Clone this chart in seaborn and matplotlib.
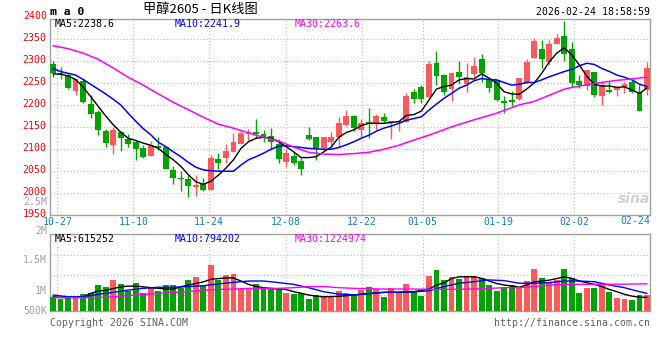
import numpy as np
import matplotlib
matplotlib.use("Agg")
import matplotlib.pyplot as plt
from matplotlib.transforms import ScaledTranslation
import seaborn as sns

# ---------------- data ----------------
date_labels = ["10-27", "11-10", "11-24", "12-08", "12-22", "01-05", "01-19", "02-02"]
last_label = "02-24"

opens = [2294, 2273, 2267, 2232, 2255, 2202, 2184, 2141, 2109, 2138,
         2122, 2116, 2102, 2084, 2107, 2105, 2052, 2034, 2031, 2014,
         2020, 2007, 2077, 2079, 2093, 2112, 2134, 2139, 2134, 2129,
         2112, 2071, 2084, 2072, 2131, 2126, 2101, 2116, 2128, 2154,
         2175, 2143, 2161, 2158, 2172, 2160, 2160, 2162, 2229, 2241,
         2219, 2295, 2268, 2236, 2275, 2248, 2270, 2305, 2259, 2257,
         2209, 2211, 2213, 2249, 2306, 2327, 2298, 2338, 2357, 2327,
         2254, 2244, 2276, 2221, 2235, 2235, 2240, 2253, 2230, 2234]
highs = [2300, 2287, 2272, 2260, 2260, 2223, 2188, 2146, 2150, 2140,
         2134, 2120, 2109, 2118, 2128, 2106, 2061, 2049, 2040, 2040,
         2033, 2086, 2090, 2111, 2137, 2141, 2145, 2168, 2143, 2147,
         2122, 2099, 2092, 2078, 2149, 2126, 2126, 2138, 2172, 2188,
         2178, 2168, 2192, 2179, 2181, 2164, 2166, 2226, 2237, 2245,
         2301, 2323, 2270, 2276, 2300, 2295, 2308, 2317, 2261, 2257,
         2220, 2232, 2262, 2304, 2352, 2348, 2348, 2361, 2392, 2344,
         2268, 2280, 2276, 2253, 2254, 2241, 2254, 2257, 2245, 2298]
lows = [2264, 2258, 2236, 2223, 2204, 2171, 2131, 2105, 2088, 2096,
        2103, 2074, 2079, 2084, 2097, 2055, 2020, 2004, 1991, 1992,
        2005, 2007, 2054, 2068, 2093, 2112, 2118, 2124, 2116, 2097,
        2068, 2059, 2062, 2040, 2119, 2074, 2096, 2103, 2101, 2152,
        2141, 2126, 2125, 2143, 2158, 2122, 2141, 2162, 2205, 2205,
        2219, 2245, 2223, 2210, 2247, 2229, 2264, 2253, 2229, 2210,
        2181, 2197, 2211, 2249, 2306, 2283, 2291, 2338, 2300, 2241,
        2238, 2234, 2219, 2200, 2226, 2221, 2228, 2228, 2187, 2222]
closes = [2272, 2268, 2238, 2258, 2207, 2180, 2143, 2114, 2143, 2125,
          2111, 2100, 2081, 2109, 2101, 2055, 2033, 2032, 2016, 2018,
          2007, 2079, 2068, 2096, 2116, 2137, 2139, 2134, 2128, 2115,
          2077, 2090, 2068, 2054, 2122, 2101, 2126, 2128, 2158, 2175,
          2147, 2159, 2156, 2175, 2163, 2163, 2164, 2220, 2214, 2214,
          2293, 2266, 2230, 2272, 2263, 2264, 2289, 2272, 2238, 2211,
          2205, 2207, 2262, 2298, 2346, 2304, 2339, 2352, 2317, 2251,
          2245, 2279, 2222, 2245, 2230, 2241, 2247, 2230, 2187, 2285]
# volume in millions
volumes = [0.62, 0.55, 0.67, 0.58, 0.77, 0.80, 1.18, 1.08, 1.41, 1.23,
           0.89, 1.27, 0.80, 1.03, 0.92, 1.18, 1.18, 1.05, 1.41, 1.53,
           1.12, 2.08, 1.38, 1.63, 1.68, 0.97, 1.03, 1.20, 1.03, 1.00,
           0.97, 0.82, 0.77, 0.82, 0.55, 0.70, 0.62, 0.65, 0.89, 0.80,
           0.76, 0.95, 1.08, 0.97, 0.62, 1.03, 0.80, 1.21, 0.92, 0.67,
           1.57, 1.84, 1.41, 1.53, 1.44, 1.57, 1.57, 1.48, 1.17, 0.89,
           1.03, 1.17, 1.08, 1.35, 1.89, 1.48, 1.26, 1.38, 1.89, 1.48,
           0.80, 1.03, 1.03, 1.15, 0.85, 0.59, 0.55, 0.50, 0.70, 0.73]

ma5 = [2271, 2270, 2266, 2258, 2241, 2219, 2197, 2175, 2155, 2138,
       2124, 2119, 2113, 2108, 2101, 2087, 2075, 2060, 2041, 2025,
       2019, 2026, 2040, 2056, 2075, 2101, 2116, 2124, 2126, 2125,
       2116, 2105, 2093, 2080, 2080, 2082, 2093, 2104, 2126, 2137,
       2143, 2153, 2158, 2158, 2158, 2160, 2162, 2176, 2178, 2186,
       2211, 2236, 2242, 2245, 2257, 2260, 2259, 2271, 2261, 2249,
       2230, 2225, 2224, 2236, 2250, 2272, 2298, 2318, 2330, 2314,
       2291, 2265, 2247, 2243, 2243, 2240, 2241, 2234, 2226, 2238.6]
ma10 = [2283, 2276, 2272, 2268, 2258, 2247, 2236, 2225, 2213, 2200,
        2181, 2163, 2146, 2132, 2115, 2105, 2093, 2082, 2069, 2058,
        2052, 2050, 2049, 2049, 2049, 2063, 2075, 2082, 2090, 2099,
        2106, 2107, 2105, 2103, 2101, 2100, 2099, 2099, 2103, 2109,
        2116, 2124, 2131, 2140, 2147, 2152, 2158, 2165, 2169, 2173,
        2188, 2202, 2215, 2226, 2238, 2245, 2255, 2260, 2258, 2257,
        2251, 2245, 2247, 2251, 2251, 2257, 2264, 2270, 2276, 2281,
        2289, 2295, 2292, 2283, 2276, 2268, 2263, 2257, 2247, 2241.9]
ma30_idx = [0, 2, 4, 6, 8, 10, 12, 14, 16, 18, 20, 22, 24, 27, 30, 32, 34, 36,
            38, 40, 42, 44, 46, 48, 50, 53, 56, 59, 62, 64, 66, 68, 70, 72, 75,
            77, 79]
ma30_val = [2335, 2328, 2318, 2304, 2284, 2263, 2245, 2225, 2206, 2189, 2172,
            2156, 2147, 2131, 2118, 2104, 2092, 2088, 2087, 2089, 2092, 2099,
            2108, 2120, 2131, 2150, 2166, 2181, 2200, 2208, 2222, 2236, 2243,
            2249, 2256, 2259, 2263.6]

vma5_idx = [0, 2, 4, 5, 6, 7, 8, 9, 10, 11, 12, 13, 14, 15, 16, 17, 18, 19, 20,
            21, 22, 23, 24, 25, 26, 27, 28, 29, 30, 31, 32, 33, 34, 35, 36, 38,
            40, 42, 44, 46, 48, 50, 51, 52, 53, 54, 55, 56, 57, 58, 59, 60, 61,
            62, 63, 64, 65, 66, 67, 68, 69, 70, 71, 72, 73, 74, 75, 76, 77, 78, 79]
vma5_val = [0.64, 0.60, 0.64, 0.79, 0.90, 0.93, 1.01, 1.09, 1.12, 1.12, 1.09,
            1.05, 1.02, 0.99, 0.99, 1.09, 1.17, 1.24, 1.31, 1.43, 1.46, 1.49,
            1.49, 1.35, 1.20, 1.10, 1.05, 1.02, 0.99, 0.97, 0.87, 0.80, 0.72,
            0.67, 0.64, 0.66, 0.72, 0.79, 0.84, 0.84, 0.87, 0.99, 1.16, 1.27,
            1.46, 1.54, 1.54, 1.54, 1.47, 1.35, 1.24, 1.17, 1.13, 1.07, 1.17,
            1.31, 1.35, 1.39, 1.46, 1.54, 1.47, 1.35, 1.27, 1.20, 1.10, 0.97,
            0.87, 0.75, 0.67, 0.62, 0.615]
vma10_idx = [0, 2, 4, 6, 8, 10, 12, 14, 16, 18, 20, 22, 24, 26, 28, 30, 32, 34,
             36, 38, 40, 44, 48, 50, 52, 54, 56, 58, 60, 62, 64, 66, 68, 70, 72,
             74, 76, 78, 79]
vma10_val = [0.72, 0.64, 0.64, 0.75, 0.84, 0.94, 1.02, 1.07, 1.07, 1.10, 1.14,
             1.22, 1.29, 1.35, 1.35, 1.28, 1.20, 1.05, 0.87, 0.76, 0.72, 0.84,
             0.86, 0.91, 1.10, 1.25, 1.32, 1.40, 1.37, 1.25, 1.25, 1.28, 1.35,
             1.35, 1.32, 1.17, 1.05, 0.87, 0.794]
vma30_idx = [0, 4, 6, 8, 10, 12, 14, 16, 18, 20, 22, 24, 26, 30, 32, 34, 36, 38,
             40, 44, 48, 52, 56, 60, 62, 64, 66, 68, 70, 76, 79]
vma30_val = [0.60, 0.60, 0.61, 0.64, 0.69, 0.75, 0.79, 0.84, 0.87, 0.94, 0.97,
             0.99, 1.02, 1.02, 1.05, 1.10, 1.10, 1.05, 1.02, 0.99, 0.99, 0.97,
             0.99, 1.05, 1.05, 1.10, 1.17, 1.20, 1.20, 1.21, 1.225]

ma_labels = ["MA5:2238.6", "MA10:2241.9", "MA30:2263.6"]
vma_labels = ["MA5:615252", "MA10:794202", "MA30:1224974"]
price_ticks = [1950, 2000, 2050, 2100, 2150, 2200, 2250, 2300, 2350]
vol_tick_texts = ["2.5M", "2M", "1.5M", "1M", "500K"]

# ---------------- style ----------------
sns.set_theme(style="white")
plt.rcParams["font.family"] = ["DejaVu Sans Mono"]
RED = "#fa5a5a"
GREEN = "#00a400"
GRID = "#b8b8b8"
FRAME = "#a0a0a0"
XBLUE = "#1478d4"
W, H = 660, 360
fs = 7.1


def fx(px):
    return px / W


def fy(py):
    return 1 - py / H


fig = plt.figure(figsize=(6.6, 3.6), dpi=100)
fig.patch.set_facecolor("white")

# main price axes: top y=19.3px, bottom y=214.65px
ax1 = fig.add_axes([fx(50), fy(214.65), 600 / W, (214.65 - 19.3) / H])
# volume axes: top y=234.3px, bottom y=311px
ax2 = fig.add_axes([fx(50), fy(311), 600 / W, (311 - 234.3) / H])

idx = np.arange(len(closes))
o = np.array(opens, float)
c = np.array(closes, float)
hi = np.array(highs, float)
lo = np.array(lows, float)
up = c > o
cols = np.where(up, RED, GREEN)

grid_pos = [0.57, 10.68, 20.78, 30.94, 41.05, 49.16, 59.22, 69.28]

for ax in (ax1, ax2):
    ax.set_facecolor("white")
    ax.set_xlim(-0.4, 79.4)
    for s in ax.spines.values():
        s.set_color(FRAME)
        s.set_linewidth(1.0)
    ax.tick_params(length=0)
    ax.set_xticks(grid_pos)
    ax.grid(True, color=GRID, linestyle=(0, (1, 2)), linewidth=0.8)
    ax.set_axisbelow(True)

# candles
ax1.vlines(idx, lo, hi, colors=cols, linewidth=1.0, zorder=2)
body = np.maximum(np.abs(c - o), 1.6)
ax1.bar(idx, body, bottom=np.minimum(o, c), width=0.78, color=cols,
        linewidth=0, zorder=3)

sns.lineplot(x=idx, y=ma5, ax=ax1, color="black", linewidth=1.0, zorder=4,
             legend=False)
sns.lineplot(x=idx, y=ma10, ax=ax1, color="#0000ff", linewidth=1.1, zorder=4,
             legend=False)
sns.lineplot(x=ma30_idx, y=ma30_val, ax=ax1, color="#ff00ff", linewidth=1.1,
             zorder=4, legend=False)

ax1.set_ylim(1950, 2395)
ax1.set_yticks(price_ticks)
ax1.set_yticklabels([str(t) for t in price_ticks], color="#ff0000",
                    fontsize=fs)
ax1.tick_params(axis="y", pad=2.5)
shift_up = ScaledTranslation(0, 1.7 / 100, fig.dpi_scale_trans)
for lab in ax1.get_yticklabels():
    lab.set_transform(lab.get_transform() + shift_up)
ax1.set_xticklabels(date_labels, color=XBLUE, fontsize=fs)
ax1.tick_params(axis="x", pad=2.0)
ax1.set_xlabel("")
ax1.set_ylabel("")

# volume bars
ax2.bar(idx, volumes, width=0.78, color=cols, linewidth=0, zorder=3)
sns.lineplot(x=vma5_idx, y=vma5_val, ax=ax2, color="black", linewidth=1.0,
             zorder=4, legend=False)
sns.lineplot(x=vma10_idx, y=vma10_val, ax=ax2, color="#0000ff",
             linewidth=1.0, zorder=4, legend=False)
sns.lineplot(x=vma30_idx, y=vma30_val, ax=ax2, color="#ff00ff",
             linewidth=1.0, zorder=4, legend=False)
ax2.set_ylim(0, (311 - 234.3) / 22.2)
ax2.set_yticks([(311 - 295) / 22.2, (311 - 275) / 22.2, (311 - 255) / 22.2])
ax2.set_yticklabels([])
ax2.set_xticklabels([])
ax2.set_xlabel("")
ax2.set_ylabel("")

# ---------------- texts ----------------
mono = ["DejaVu Sans Mono"]
fig.text(fx(50), fy(12), "m a 0", fontsize=8.2, fontweight="bold",
         family=mono, ha="left", va="center", color="black")
fig.text(fx(200), fy(10), "甲醇2605 - 日K线图", fontsize=9.5,
         family=["Noto Sans CJK SC", "DejaVu Sans"], ha="center",
         va="center", color="black")
fig.text(fx(650), fy(12.3), "2026-02-24 18:58:59", fontsize=fs, family=mono,
         ha="right", va="center", color="black")
fig.text(fx(47), fy(15.7), "2400", fontsize=fs, family=mono, ha="right",
         va="center", color="#ff0000")

for lab, px, colr in zip(ma_labels, [55, 175, 295],
                         ["black", "#0000ff", "#ff00ff"]):
    fig.text(fx(px), fy(24), lab, fontsize=fs, family=mono, ha="left",
             va="center", color=colr)
for lab, px, colr in zip(vma_labels, [55, 175, 295],
                         ["black", "#0000ff", "#ff00ff"]):
    fig.text(fx(px), fy(239), lab, fontsize=fs, family=mono, ha="left",
             va="center", color=colr)

for lab, py in zip(vol_tick_texts, [201.8, 231, 260, 290.7, 311]):
    fig.text(fx(47), fy(py), lab, fontsize=fs, family=mono, ha="right",
             va="center", color="#a0a0a0")

fig.text(fx(650), fy(221), last_label, fontsize=fs, family=mono, ha="right",
         va="center", color=XBLUE)

fig.text(fx(50), fy(323.5), "Copyright 2026 SINA.COM", fontsize=fs,
         family=mono, ha="left", va="center", color="#606060")
fig.text(fx(650), fy(323.5), "http://finance.sina.com.cn", fontsize=fs,
         family=mono, ha="right", va="center", color="#606060")

# watermark
fig.text(fx(634), fy(199), "sina", fontsize=10, fontweight="bold",
         style="italic", family=["DejaVu Sans"], ha="center", va="center",
         color="#d0d0d0")

fig.savefig("out.png", dpi=100, facecolor="white")
